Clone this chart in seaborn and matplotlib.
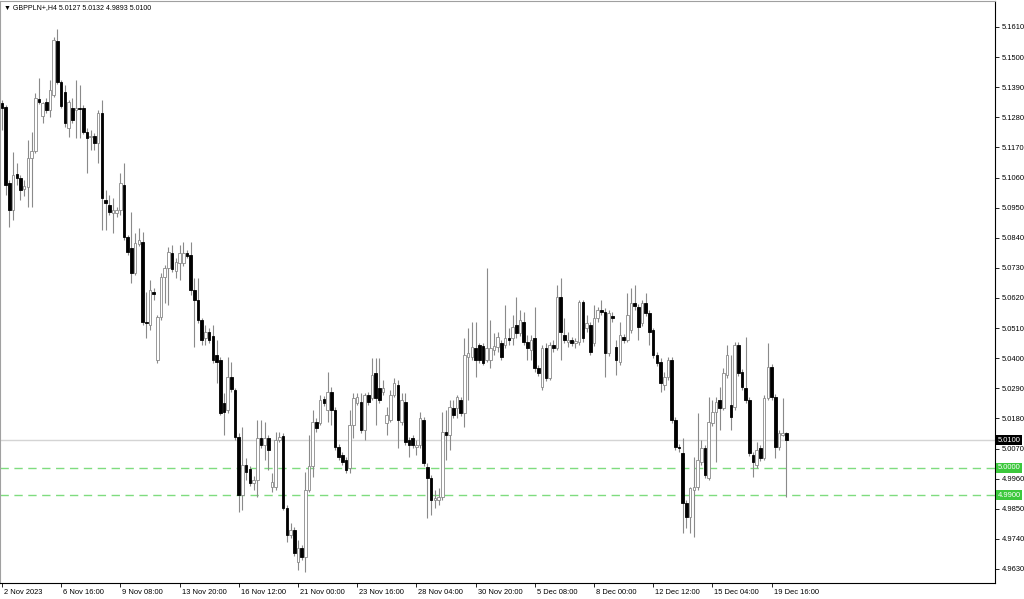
"""GBPPLN+ H4 candlestick chart, MetaTrader look (2 Nov - 20 Dec 2023)."""

import matplotlib

matplotlib.use("Agg")
import matplotlib.pyplot as plt
import matplotlib.transforms as mtransforms
import numpy as np
import pandas as pd
import seaborn as sns

SYMBOL = "GBPPLN+,H4"

opens = [
    5.1332, 5.1318, 5.1040, 5.0941, 5.1073, 5.1058, 5.1018, 5.1025, 5.1131, 5.1157,
    5.1347, 5.1285, 5.1336, 5.1307, 5.1362, 5.1559, 5.1409, 5.1373, 5.1241, 5.1314,
    5.1307, 5.1314, 5.1314, 5.1226, 5.1208, 5.1212, 5.1186, 5.1296, 5.0978, 5.0960,
    5.0931, 5.0931, 5.0941, 5.1033, 5.0843, 5.0803, 5.0711, 5.0817, 5.0825, 5.0532,
    5.0521, 5.0642, 5.0394, 5.0551, 5.0697, 5.0730, 5.0784, 5.0719, 5.0748, 5.0748,
    5.0784, 5.0777, 5.0649, 5.0613, 5.0540, 5.0474, 5.0496, 5.0481, 5.0412, 5.0394,
    5.0236, 5.0211, 5.0331, 5.0284, 5.0112, 4.9900, 5.0010, 4.9995, 4.9944, 4.9955,
    5.0109, 5.0083, 5.0109, 4.9930, 4.9930, 5.0101, 5.0116, 4.9853, 4.9754, 4.9773,
    4.9656, 4.9707, 4.9674, 4.9919, 5.0006, 5.0167, 5.0163, 5.0251, 5.0211, 5.0277,
    5.0211, 5.0076, 5.0046, 5.0028, 4.9999, 5.0156, 5.0236, 5.0240, 5.0138, 5.0266,
    5.0255, 5.0346, 5.0291, 5.0277, 5.0163, 5.0174, 5.0266, 5.0302, 5.0167, 5.0240,
    5.0101, 5.0109, 5.0076, 5.0083, 5.0174, 5.0003, 4.9962, 4.9882, 4.9882, 4.9893,
    5.0131, 5.0120, 5.0218, 5.0218, 5.0247, 5.0200, 5.0404, 5.0404, 5.0437, 5.0448,
    5.0445, 5.0394, 5.0394, 5.0430, 5.0441, 5.0456, 5.0448, 5.0474, 5.0474, 5.0521,
    5.0492, 5.0532, 5.0459, 5.0430, 5.0474, 5.0364, 5.0295, 5.0437, 5.0328, 5.0448,
    5.0437, 5.0624, 5.0485, 5.0459, 5.0467, 5.0456, 5.0459, 5.0605, 5.0510, 5.0521,
    5.0456, 5.0547, 5.0576, 5.0569, 5.0419, 5.0554, 5.0441, 5.0386, 5.0478, 5.0467,
    5.0503, 5.0602, 5.0587, 5.0529, 5.0602, 5.0565, 5.0503, 5.0412, 5.0386, 5.0302,
    5.0331, 5.0394, 5.0174, 5.0076, 5.0054, 4.9871, 4.9820, 4.9919, 4.9930, 5.0021,
    5.0072, 4.9962, 5.0163, 5.0204, 5.0247, 5.0218, 5.0339, 5.0229, 5.0222, 5.0448,
    5.0350, 5.0291, 5.0247, 5.0046, 5.0010, 5.0072, 5.0036, 5.0255, 5.0368, 5.0258,
    5.0076, 5.0120, 5.0127,
]
highs = [
    5.1343, 5.1325, 5.1051, 5.1153, 5.1113, 5.1069, 5.1051, 5.1197, 5.1226, 5.1369,
    5.1424, 5.1336, 5.1351, 5.1416, 5.1573, 5.1603, 5.1416, 5.1398, 5.1343, 5.1351,
    5.1416, 5.1398, 5.1325, 5.1241, 5.1234, 5.1223, 5.1307, 5.1343, 5.1015, 5.0996,
    5.0985, 5.0952, 5.1077, 5.1113, 5.0850, 5.0934, 5.0857, 5.0876, 5.0861, 5.0642,
    5.0686, 5.0657, 5.0558, 5.0711, 5.0741, 5.0806, 5.0814, 5.0766, 5.0814, 5.0825,
    5.0795, 5.0825, 5.0693, 5.0693, 5.0547, 5.0521, 5.0510, 5.0521, 5.0467, 5.0404,
    5.0273, 5.0404, 5.0386, 5.0291, 5.0127, 5.0149, 5.0036, 5.0006, 4.9970, 5.0174,
    5.0174, 5.0167, 5.0120, 4.9981, 5.0131, 5.0131, 5.0127, 4.9864, 4.9798, 4.9783,
    4.9736, 4.9718, 4.9984, 5.0120, 5.0211, 5.0182, 5.0266, 5.0262, 5.0350, 5.0295,
    5.0222, 5.0087, 5.0057, 5.0039, 5.0211, 5.0273, 5.0273, 5.0273, 5.0273, 5.0277,
    5.0401, 5.0401, 5.0401, 5.0320, 5.0222, 5.0284, 5.0328, 5.0320, 5.0273, 5.0273,
    5.0112, 5.0120, 5.0101, 5.0204, 5.0185, 5.0017, 4.9973, 4.9919, 4.9926, 5.0204,
    5.0211, 5.0247, 5.0247, 5.0266, 5.0258, 5.0474, 5.0510, 5.0532, 5.0532, 5.0456,
    5.0456, 5.0730, 5.0540, 5.0492, 5.0496, 5.0467, 5.0594, 5.0510, 5.0558, 5.0624,
    5.0576, 5.0569, 5.0485, 5.0485, 5.0587, 5.0375, 5.0448, 5.0456, 5.0459, 5.0467,
    5.0668, 5.0693, 5.0547, 5.0496, 5.0478, 5.0474, 5.0613, 5.0613, 5.0558, 5.0532,
    5.0594, 5.0587, 5.0613, 5.0583, 5.0576, 5.0569, 5.0467, 5.0532, 5.0488, 5.0638,
    5.0657, 5.0668, 5.0598, 5.0613, 5.0638, 5.0576, 5.0510, 5.0423, 5.0401, 5.0350,
    5.0404, 5.0404, 5.0185, 5.0087, 5.0109, 4.9882, 4.9930, 5.0039, 5.0200, 5.0101,
    5.0083, 5.0258, 5.0247, 5.0258, 5.0295, 5.0364, 5.0448, 5.0412, 5.0459, 5.0459,
    5.0361, 5.0478, 5.0258, 5.0057, 5.0094, 5.0083, 5.0266, 5.0456, 5.0379, 5.0269,
    5.0138, 5.0255, 5.0132,
]
lows = [
    5.1234, 5.0996, 5.0879, 5.0905, 5.1033, 5.0978, 5.0993, 5.0952, 5.0952, 5.1150,
    5.1329, 5.1259, 5.1296, 5.1281, 5.1354, 5.1402, 5.1314, 5.1245, 5.1208, 5.1259,
    5.1204, 5.1204, 5.1219, 5.1077, 5.1161, 5.1161, 5.1113, 5.0868, 5.0868, 5.0923,
    5.0857, 5.0916, 5.0923, 5.0832, 5.0777, 5.0675, 5.0704, 5.0810, 5.0521, 5.0474,
    5.0503, 5.0613, 5.0383, 5.0540, 5.0602, 5.0594, 5.0715, 5.0693, 5.0686, 5.0737,
    5.0766, 5.0631, 5.0441, 5.0529, 5.0448, 5.0448, 5.0456, 5.0383, 5.0310, 5.0193,
    5.0120, 5.0200, 5.0277, 5.0101, 4.9838, 4.9846, 4.9955, 4.9933, 4.9919, 4.9893,
    5.0072, 5.0028, 4.9992, 4.9911, 4.9919, 5.0094, 4.9846, 4.9729, 4.9743, 4.9678,
    4.9626, 4.9663, 4.9619, 4.9911, 4.9966, 5.0131, 5.0156, 5.0225, 5.0167, 5.0156,
    5.0065, 5.0028, 5.0010, 4.9981, 4.9981, 5.0109, 5.0229, 5.0127, 5.0101, 5.0229,
    5.0247, 5.0156, 5.0236, 5.0266, 5.0120, 5.0167, 5.0258, 5.0072, 5.0156, 5.0083,
    5.0039, 5.0072, 5.0046, 5.0072, 5.0006, 4.9816, 4.9827, 4.9853, 4.9864, 4.9882,
    5.0028, 5.0065, 5.0182, 5.0182, 5.0189, 5.0149, 5.0247, 5.0394, 5.0331, 5.0383,
    5.0375, 5.0386, 5.0364, 5.0412, 5.0423, 5.0394, 5.0437, 5.0448, 5.0448, 5.0474,
    5.0481, 5.0448, 5.0394, 5.0394, 5.0350, 5.0335, 5.0284, 5.0317, 5.0320, 5.0423,
    5.0430, 5.0394, 5.0456, 5.0441, 5.0445, 5.0437, 5.0448, 5.0459, 5.0496, 5.0412,
    5.0445, 5.0532, 5.0558, 5.0331, 5.0408, 5.0532, 5.0339, 5.0375, 5.0456, 5.0459,
    5.0492, 5.0576, 5.0467, 5.0518, 5.0554, 5.0448, 5.0401, 5.0372, 5.0277, 5.0284,
    5.0320, 5.0163, 5.0065, 5.0057, 4.9762, 4.9780, 4.9762, 4.9747, 4.9919, 5.0010,
    4.9962, 4.9955, 5.0152, 5.0021, 5.0138, 5.0211, 5.0328, 5.0138, 5.0211, 5.0335,
    5.0284, 5.0236, 5.0043, 4.9966, 4.9999, 5.0025, 5.0028, 5.0247, 5.0247, 5.0036,
    5.0065, 5.0116, 4.9893,
]
closes = [
    5.1314, 5.1033, 5.0941, 5.1069, 5.1058, 5.1015, 5.1029, 5.1131, 5.1157, 5.1351,
    5.1336, 5.1332, 5.1307, 5.1380, 5.1562, 5.1409, 5.1321, 5.1259, 5.1336, 5.1270,
    5.1314, 5.1310, 5.1226, 5.1204, 5.1212, 5.1186, 5.1296, 5.0985, 5.0967, 5.0934,
    5.0941, 5.0941, 5.1040, 5.0843, 5.0788, 5.0711, 5.0821, 5.0832, 5.0532, 5.0529,
    5.0649, 5.0635, 5.0551, 5.0697, 5.0730, 5.0788, 5.0726, 5.0751, 5.0784, 5.0784,
    5.0773, 5.0649, 5.0613, 5.0540, 5.0467, 5.0496, 5.0467, 5.0394, 5.0386, 5.0200,
    5.0204, 5.0331, 5.0288, 5.0112, 4.9900, 5.0010, 4.9984, 4.9944, 4.9955, 5.0109,
    5.0083, 5.0109, 5.0065, 4.9948, 5.0101, 5.0112, 4.9853, 4.9754, 4.9773, 4.9689,
    4.9707, 4.9674, 4.9919, 5.0006, 5.0167, 5.0145, 5.0247, 5.0236, 5.0277, 5.0211,
    5.0076, 5.0039, 5.0021, 4.9992, 5.0156, 5.0255, 5.0258, 5.0138, 5.0266, 5.0240,
    5.0339, 5.0255, 5.0247, 5.0291, 5.0193, 5.0266, 5.0310, 5.0174, 5.0247, 5.0094,
    5.0083, 5.0083, 5.0083, 5.0182, 5.0017, 4.9962, 4.9882, 4.9889, 4.9893, 5.0131,
    5.0120, 5.0222, 5.0193, 5.0258, 5.0200, 5.0412, 5.0419, 5.0441, 5.0394, 5.0394,
    5.0383, 5.0437, 5.0437, 5.0445, 5.0478, 5.0404, 5.0474, 5.0467, 5.0514, 5.0492,
    5.0540, 5.0459, 5.0437, 5.0467, 5.0364, 5.0346, 5.0437, 5.0328, 5.0448, 5.0437,
    5.0624, 5.0496, 5.0467, 5.0467, 5.0456, 5.0463, 5.0605, 5.0474, 5.0529, 5.0423,
    5.0547, 5.0576, 5.0569, 5.0419, 5.0565, 5.0547, 5.0394, 5.0485, 5.0467, 5.0558,
    5.0602, 5.0591, 5.0514, 5.0602, 5.0565, 5.0496, 5.0412, 5.0383, 5.0310, 5.0331,
    5.0394, 5.0174, 5.0076, 5.0072, 4.9871, 4.9820, 4.9926, 4.9930, 5.0028, 5.0072,
    4.9973, 5.0167, 5.0204, 5.0240, 5.0218, 5.0346, 5.0412, 5.0185, 5.0448, 5.0346,
    5.0295, 5.0247, 5.0054, 5.0021, 5.0065, 5.0036, 5.0255, 5.0368, 5.0258, 5.0076,
    5.0127, 5.0127, 5.0100,
]

# time axis: one label every 16 H4 bars
time_labels = [
    "2 Nov 2023", "6 Nov 16:00", "9 Nov 08:00", "13 Nov 20:00", "16 Nov 12:00",
    "21 Nov 00:00", "23 Nov 16:00", "28 Nov 04:00", "30 Nov 20:00", "5 Dec 08:00",
    "8 Dec 00:00", "12 Dec 12:00", "15 Dec 04:00", "19 Dec 16:00",
]
BARS_PER_LABEL = 16

price_ticks = [
    5.1610, 5.1500, 5.1390, 5.1280, 5.1170, 5.1060, 5.0950, 5.0840, 5.0730, 5.0620,
    5.0510, 5.0400, 5.0290, 5.0180, 5.0070, 4.9960, 4.9850, 4.9740, 4.9630,
]
LAST_PRICE = 5.0100
levels = [5.0000, 4.9900]

BULL_EDGE = "#8a8a8a"
WICK = "#8a8a8a"
LEVEL_GREEN = "#7fdc7f"
LABEL_GREEN = "#3cc83c"

sns.set_style("white")
plt.rcParams["font.family"] = ["Liberation Sans", "DejaVu Sans"]

df = pd.DataFrame({"open": opens, "high": highs, "low": lows, "close": closes})
df["bar"] = np.arange(len(df))
df["bull"] = df["close"] >= df["open"]
df["body_lo"] = df[["open", "close"]].min(axis=1)
df["body_h"] = (df["close"] - df["open"]).abs().clip(lower=0.0003)

fig = plt.figure(figsize=(10.24, 5.99), dpi=100)
ax = fig.add_axes([0.0, 16 / 599, 995 / 1024, 582 / 599])

# level lines
ax.axhline(LAST_PRICE, color="#d4d4d4", lw=1.0, zorder=1)
for lv in levels:
    ax.axhline(lv, color=LEVEL_GREEN, lw=1.0, dashes=(6, 4), zorder=1)

# wicks, then bodies
ax.vlines(df["bar"], df["low"], df["high"], color=WICK, lw=0.8, zorder=2)
bull = df[df["bull"]]
bear = df[~df["bull"]]
ax.bar(bull["bar"], bull["body_h"], bottom=bull["body_lo"], width=0.7,
       color="white", edgecolor=BULL_EDGE, linewidth=0.6, zorder=3)
ax.bar(bear["bar"], bear["body_h"], bottom=bear["body_lo"], width=0.7,
       color="black", edgecolor="black", linewidth=0.6, zorder=3)

ax.set_xlim(-0.54, 268.4)
ax.set_ylim(4.95788, 5.17049)

# price scale on the right
ax.yaxis.tick_right()
ax.set_yticks(price_ticks)
ax.set_yticklabels([f"{p:.4f}" for p in price_ticks])
ax.tick_params(axis="y", direction="out", length=3, width=0.6, pad=2,
               labelsize=5.4, colors="black", right=True, left=False)

# time scale
xt = [k * BARS_PER_LABEL for k in range(len(time_labels))]
ax.set_xticks(xt)
ax.set_xticklabels(time_labels, ha="left")
ax.tick_params(axis="x", direction="out", length=3, width=0.6, pad=1.5,
               labelsize=5.4, colors="black", bottom=True)
shift = mtransforms.ScaledTranslation(2 / 100, 0, fig.dpi_scale_trans)
for lab in ax.get_xticklabels():
    lab.set_transform(lab.get_transform() + shift)

for side in ("left", "top"):
    ax.spines[side].set_color("#a0a0a0")
    ax.spines[side].set_linewidth(0.8)
for side in ("right", "bottom"):
    ax.spines[side].set_color("black")
    ax.spines[side].set_linewidth(0.8)

# highlighted price labels
blend = mtransforms.blended_transform_factory(ax.transAxes, ax.transData)
ax.text(1.0025, LAST_PRICE, f"{LAST_PRICE:.4f}", transform=blend, ha="left",
        va="center", fontsize=5.4, color="white", clip_on=False,
        bbox=dict(boxstyle="square,pad=0.2", fc="black", ec="none"))
for lv in levels:
    ax.text(1.0025, lv, f"{lv:.4f}", transform=blend, ha="left", va="center",
            fontsize=5.4, color="white", clip_on=False,
            bbox=dict(boxstyle="square,pad=0.2", fc=LABEL_GREEN, ec="none"))

# header with the current bar
last = df.iloc[-1]
header = (f"\u25BC {SYMBOL} {last['open']:.4f} {last['high']:.4f} "
          f"{last['low']:.4f} {last['close']:.4f}")
ax.text(0.004, 0.994, header, transform=ax.transAxes, ha="left", va="top",
        fontsize=5.0, color="black")

fig.savefig("out.png", dpi=100)
